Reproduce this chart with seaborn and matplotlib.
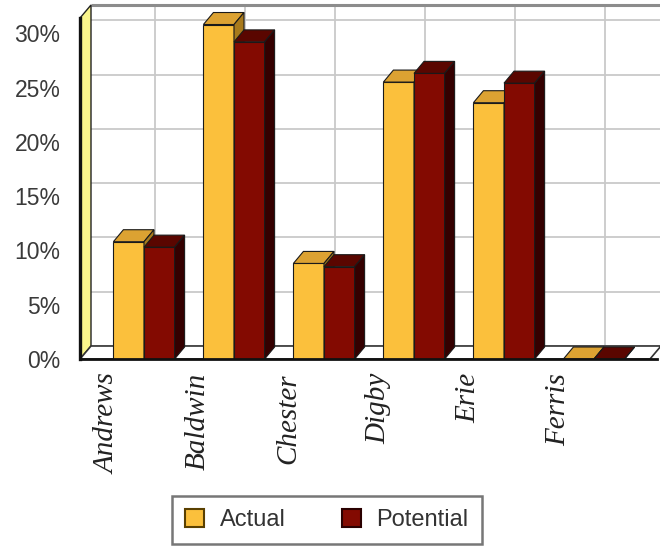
import numpy as np
import pandas as pd
import matplotlib
matplotlib.use("Agg")
import matplotlib.pyplot as plt
import seaborn as sns
from matplotlib.patches import Polygon, Patch
from matplotlib.ticker import MultipleLocator, FuncFormatter
from matplotlib.transforms import ScaledTranslation

# ---- data (market share, %) ----
companies = ["Andrews", "Baldwin", "Chester", "Digby", "Erie", "Ferris"]
actual = [10.8, 30.8, 8.8, 25.5, 23.6, 0.0]
potential = [10.3, 29.2, 8.5, 26.3, 25.4, 0.0]
series = ["Actual", "Potential"]
y_ticks = [0, 5, 10, 15, 20, 25, 30]

df = pd.DataFrame({
    "company": companies * 2,
    "share": actual + potential,
    "series": [series[0]] * len(companies) + [series[1]] * len(companies),
})

# ---- style ----
sns.set_style("white")
plt.rcParams["font.family"] = ["Liberation Sans", "DejaVu Sans"]

front = {"Actual": "#FBC03C", "Potential": "#830A01"}
top = {"Actual": "#DCA232", "Potential": "#5A0600"}
side = {"Actual": "#A87A1C", "Potential": "#340000"}
edge = "#1a1a1a"
grid_c = "#C9C9C9"
text_c = "#3a3a3a"

W, H, DPI = 660, 548, 100
fig = plt.figure(figsize=(W / DPI, H / DPI), dpi=DPI)
# front plane of the plot box, in figure fractions
ax = fig.add_axes([80 / W, (H - 359) / H, 570 / W, 341 / H])

sns.barplot(data=df, x="company", y="share", hue="series", hue_order=series,
            palette=[front[s] for s in series], saturation=1, width=0.68,
            edgecolor=edge, linewidth=0.8, legend=False, ax=ax)

x_lo, x_hi = -0.711, 5.622
y_lo, y_hi = 0.0, 31.4
ax.set_xlim(x_lo, x_hi)
ax.set_ylim(y_lo, y_hi)

# depth of the walls and of the columns, in data units (derived from pixels)
px_x = (x_hi - x_lo) / 570.0
px_y = (y_hi - y_lo) / 341.0
wall_dx, wall_dy = 11 * px_x, 13 * px_y
bar_dx, bar_dy = 10 * px_x, 12 * px_y

# back wall
ax.add_patch(Polygon([(x_lo + wall_dx, wall_dy), (x_hi + wall_dx + 0.3, wall_dy),
                      (x_hi + wall_dx + 0.3, y_hi + wall_dy), (x_lo + wall_dx, y_hi + wall_dy)],
                     closed=True, facecolor="white", edgecolor="none",
                     zorder=0.2, clip_on=False))
ax.plot([x_lo + wall_dx, x_hi + wall_dx + 0.3], [y_hi + wall_dy] * 2, color="#8c8c8c",
        lw=2.2, zorder=0.4, clip_on=False, solid_capstyle="butt")
for v in y_ticks:
    ax.plot([x_lo + wall_dx, x_hi + wall_dx + 0.3], [v + wall_dy] * 2, color=grid_c,
            lw=1.3, zorder=0.3, clip_on=False)
for i in range(len(companies)):
    ax.plot([i + wall_dx] * 2, [wall_dy, y_hi + wall_dy], color=grid_c,
            lw=1.3, zorder=0.3, clip_on=False)

# left wall
ax.add_patch(Polygon([(x_lo, 0), (x_lo, y_hi), (x_lo + wall_dx, y_hi + wall_dy),
                      (x_lo + wall_dx, wall_dy)], closed=True, facecolor="#FAF58C",
                     edgecolor="#222222", lw=1.0, zorder=0.5, clip_on=False))

# floor
ax.add_patch(Polygon([(x_lo, 0), (x_hi, 0), (x_hi + wall_dx, wall_dy),
                      (x_lo + wall_dx, wall_dy)], closed=True, facecolor="white",
                     edgecolor="#333333", lw=1.2, zorder=0.6, clip_on=False))

# top and side faces of each column
for s, cont in zip(series, ax.containers):
    z = 3 if s == "Actual" else 4
    for bar in cont:
        x0, y0 = bar.get_x(), bar.get_y()
        x1, y1 = x0 + bar.get_width(), y0 + bar.get_height()
        bar.set_zorder(z)
        ax.add_patch(Polygon([(x0, y1), (x1, y1), (x1 + bar_dx, y1 + bar_dy),
                              (x0 + bar_dx, y1 + bar_dy)], closed=True,
                             facecolor=top[s], edgecolor=edge, lw=0.8, zorder=z,
                             clip_on=False))
        ax.add_patch(Polygon([(x1, y0), (x1 + bar_dx, y0 + bar_dy),
                              (x1 + bar_dx, y1 + bar_dy), (x1, y1)], closed=True,
                             facecolor=side[s], edgecolor=edge, lw=0.8, zorder=z,
                             clip_on=False))

# axes frame
for sp in ["top", "right"]:
    ax.spines[sp].set_visible(False)
ax.spines["left"].set_color("#111111")
ax.spines["left"].set_linewidth(2.4)
ax.spines["left"].set_zorder(5)
ax.spines["bottom"].set_color("#111111")
ax.spines["bottom"].set_linewidth(2.0)
ax.spines["bottom"].set_zorder(5)
ax.spines["bottom"].set_bounds(x_lo, x_hi + 0.08)

ax.set_yticks(y_ticks)
ax.yaxis.set_minor_locator(MultipleLocator(1))
ax.yaxis.set_major_formatter(FuncFormatter(lambda v, p: f"{v:.0f}%"))
ax.tick_params(axis="y", which="major", length=7, width=1.0, color="#8a8a8a",
               pad=7, labelsize=16.5, labelcolor=text_c)
ax.tick_params(axis="y", which="minor", length=3.5, width=0.9, color="#9a9a9a")
ax.tick_params(axis="x", length=0, pad=10)
ax.set_xlabel("")
ax.set_ylabel("")
ax.grid(False)

ax.set_xticks(range(len(companies)))
ax.set_xticklabels(companies, rotation=90, fontstyle="italic", fontsize=21,
                   family=["Liberation Serif", "DejaVu Serif"], color="#222222")
shift = ScaledTranslation(-36 / DPI, 0, fig.dpi_scale_trans)
for lab in ax.get_xticklabels():
    lab.set_transform(lab.get_transform() + shift)

# legend
handles = [Patch(facecolor=front["Actual"], edgecolor="#5a4000", lw=1.5, label="Actual"),
           Patch(facecolor=front["Potential"], edgecolor="#2a0000", lw=1.5, label="Potential")]
leg = fig.legend(handles=handles, loc="lower center", bbox_to_anchor=(327 / W, 0.0),
                 ncol=2, frameon=True, fancybox=False, fontsize=17,
                 handlelength=0.8, handleheight=0.8, handletextpad=0.65,
                 columnspacing=2.4, borderpad=0.55, borderaxespad=0.15)
leg.get_frame().set_edgecolor("#555555")
leg.get_frame().set_linewidth(1.8)
for t in leg.get_texts():
    t.set_color("#333333")

fig.savefig("out.png", dpi=DPI, facecolor="white")
